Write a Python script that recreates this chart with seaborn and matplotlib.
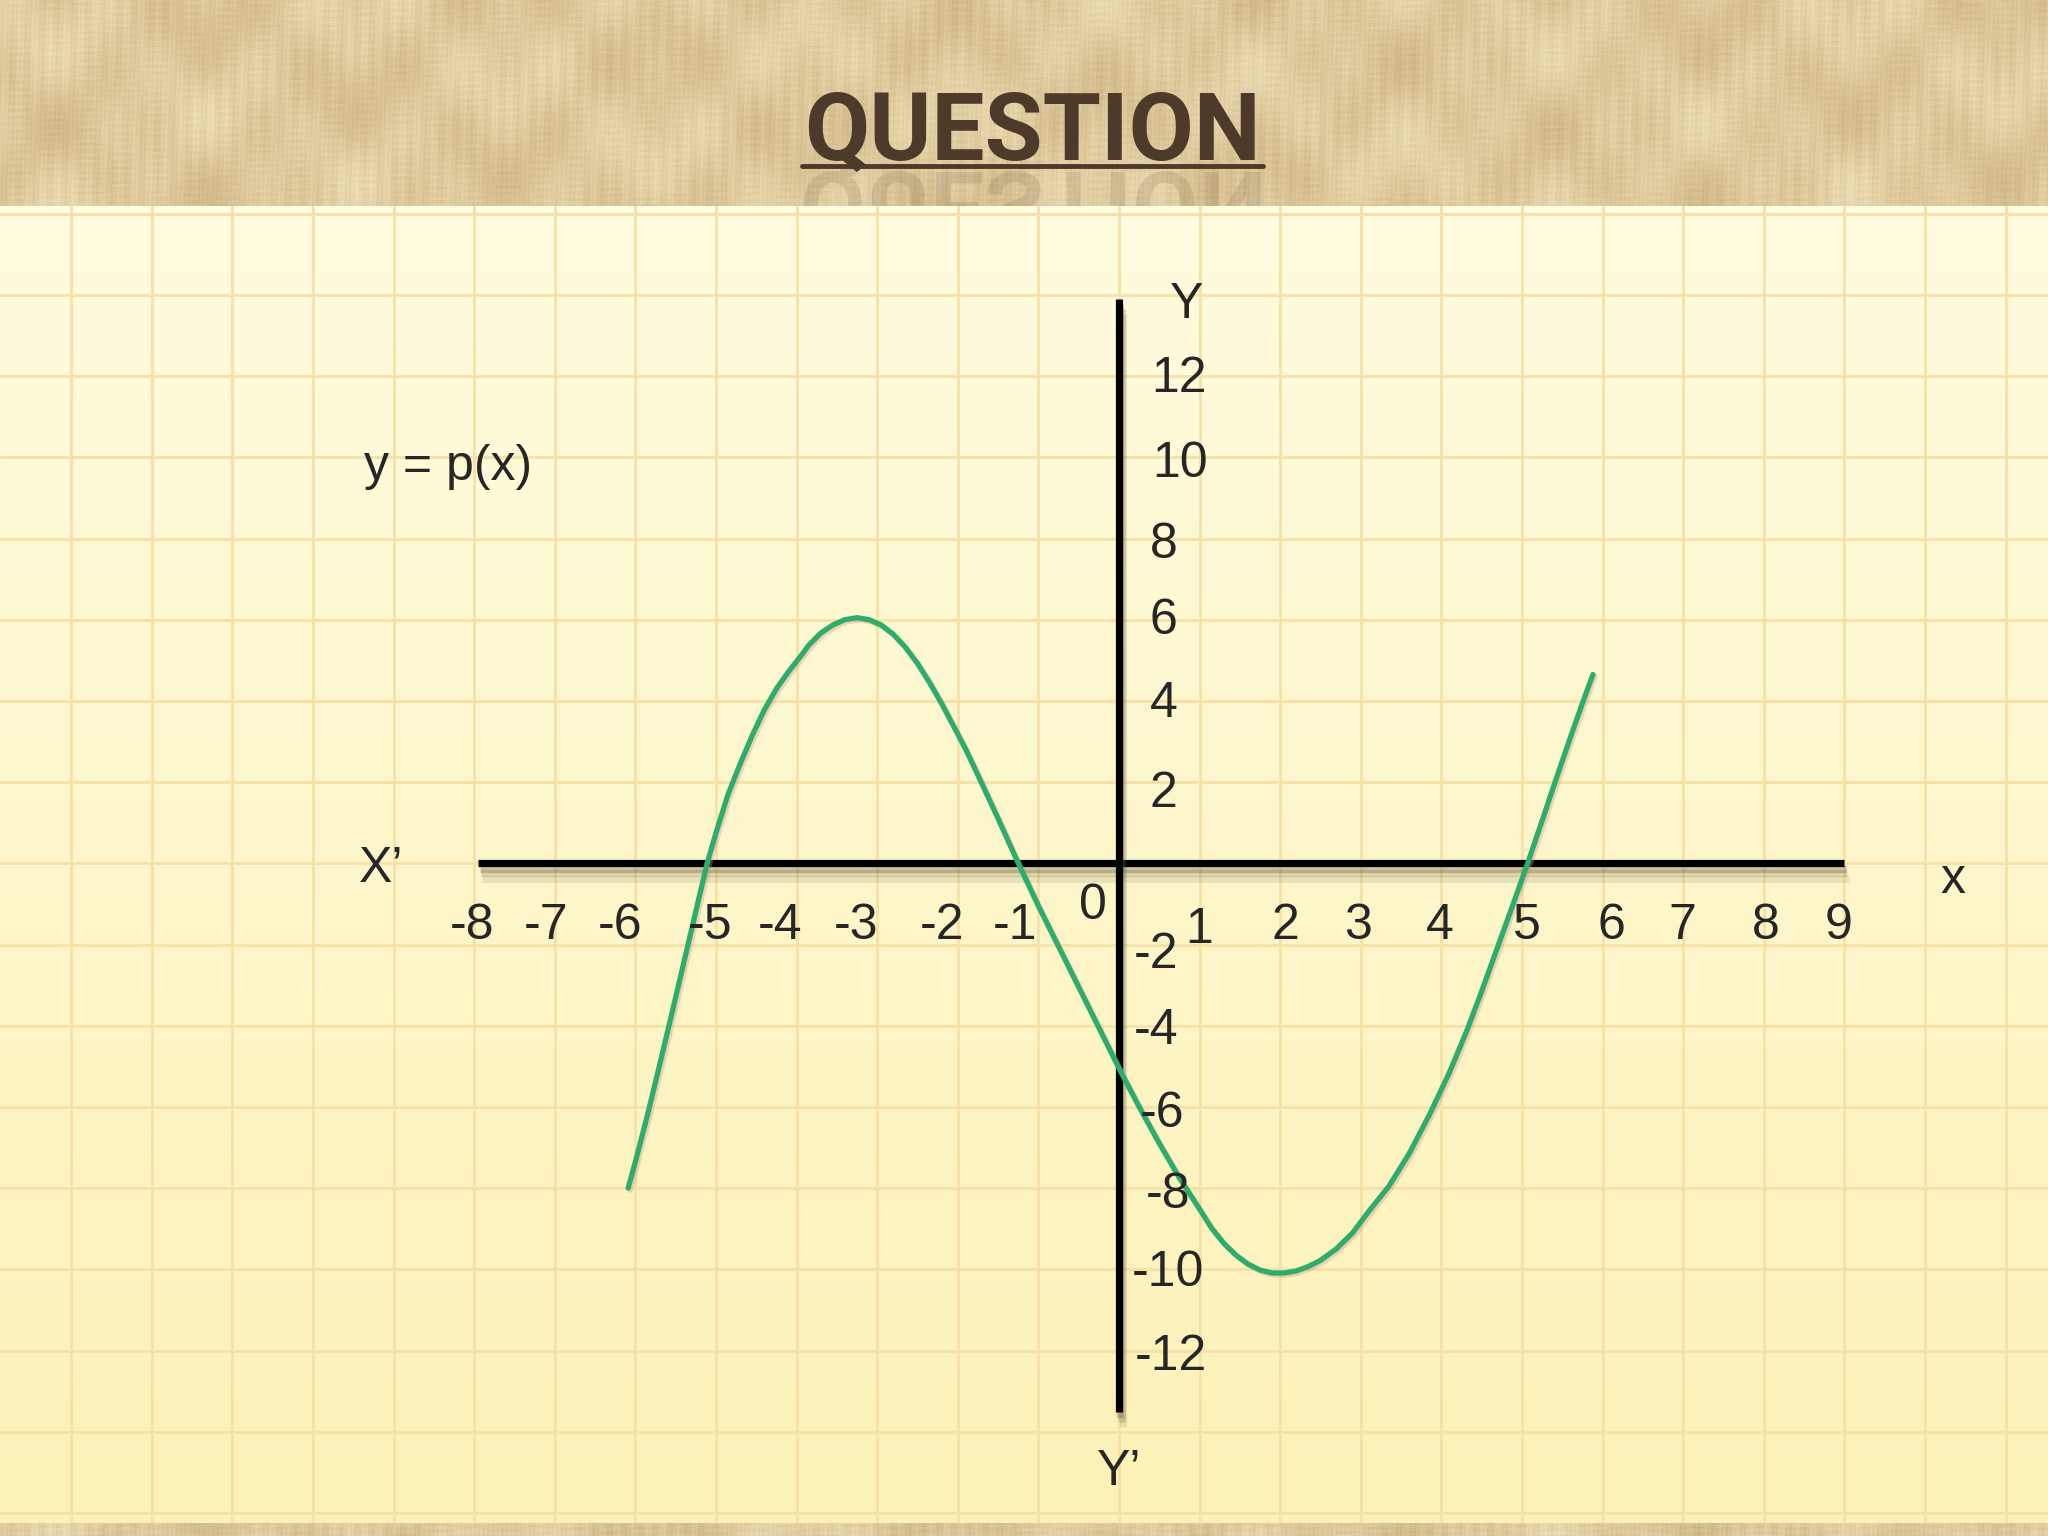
import numpy as np
import matplotlib
matplotlib.use("Agg")
import matplotlib.pyplot as plt
import matplotlib.patheffects as pe
from matplotlib.textpath import TextPath
from matplotlib.font_manager import FontProperties
from matplotlib.patches import PathPatch
from matplotlib.lines import Line2D
from matplotlib.transforms import Affine2D, IdentityTransform
import seaborn as sns

# curve y = p(x)
curve_x = [-6.09, -6.0, -5.85, -5.7, -5.55, -5.4, -5.25, -5.11, -5.0, -4.85, -4.7, -4.55,
           -4.4, -4.25, -4.1, -3.95, -3.85, -3.7, -3.55, -3.4, -3.25, -3.1, -2.95, -2.8,
           -2.65, -2.5, -2.35, -2.2, -2.05, -1.9, -1.75, -1.5, -1.25, -1.0, -0.75, -0.5,
           -0.25, 0.0, 0.25, 0.5, 0.75, 1.0, 1.15, 1.3, 1.45, 1.6, 1.75, 1.9, 2.05, 2.2,
           2.35, 2.5, 2.7, 2.9, 3.1, 3.35, 3.6, 3.85, 4.1, 4.32, 4.5, 4.7, 4.9, 5.07,
           5.25, 5.41, 5.6, 5.76, 5.88]
curve_y = [-8.0, -7.35, -6.2, -4.97, -3.72, -2.45, -1.18, 0.0, 0.75, 1.7, 2.45, 3.15,
           3.78, 4.3, 4.72, 5.1, 5.37, 5.67, 5.87, 6.0, 6.05, 6.0, 5.87, 5.64,
           5.32, 4.92, 4.45, 3.93, 3.37, 2.8, 2.17, 1.1, 0.0, -1.05, -2.05, -3.05,
           -4.05, -5.05, -6.0, -6.9, -7.75, -8.52, -8.99, -9.36, -9.65, -9.87, -10.02, -10.09, -10.09, -10.04,
           -9.93, -9.78, -9.49, -9.1, -8.57, -7.95, -7.15, -6.2, -5.15, -4.1, -3.15, -2.05, -0.95, 0.0,
           1.05, 2.0, 3.1, 4.0, 4.65]

x_ticks = [-8, -7, -6, -5, -4, -3, -2, -1, 1, 2, 3, 4, 5, 6, 7, 8, 9]
y_ticks = [12, 10, 8, 6, 4, 2, -2, -4, -6, -8, -10, -12]

# the labels on the slide are placed by hand, a bit off their values
x_nudge = [-0.03, -0.11, -0.19, -0.07, -0.20, -0.26, -0.20, -0.29, -0.01, 0.07, -0.04,
           -0.02, 0.06, 0.11, -0.01, 0.03, -0.07]
y_label_x = [0.75, 0.76, 0.55, 0.55, 0.55, 0.55, 0.46, 0.46, 0.53, 0.61, 0.61, 0.64]
y_nudge = [-0.08, -0.16, -0.16, -0.03, -0.08, -0.3, -0.27, -0.13, -0.17, -0.17, -0.1, -0.17]

W, H = 2048, 1536
head_px, foot_px = 206, 13
px_per_x, px_per_y = 80.6, 40.6
x0_px, y0_px = 1119, 863.3   # where the origin sits on the slide (from top-left)

sns.set_style("white")
plt.rcParams['font.family'] = ['Liberation Sans', 'DejaVu Sans']

fig = plt.figure(figsize=(W / 100, H / 100), dpi=100)


def texture(rows, phase=0.0):
    c = np.arange(W)[None, :].astype(float)
    r = np.arange(rows)[:, None].astype(float) + phase
    v = (0.30 * np.sin(c * 0.021 + 0.4) * np.sin(r * 0.035 + c * 0.004)
         + 0.22 * np.sin(c * 0.063 + 1.1) * np.cos(r * 0.05)
         + 0.16 * np.sin(c * 0.41) * np.sin(c * 0.011 + r * 0.02)
         + 0.12 * np.sin(r * 0.9 + c * 0.013) * np.sin(c * 0.09)
         + 0.10 * np.sin(c * 1.37 + r * 0.05)
         + 0.08 * np.sin(r * 2.1) * np.sin(c * 0.23 + 0.5)
         + 0.07 * np.sin(c * 2.3) * np.sin(c * 0.031 + 2.0)
         + 0.05 * np.sin(r * 1.3 + 0.2) * np.sin(c * 0.017))
    v = (v - v.min()) / (v.max() - v.min())
    dark = np.array([202, 176, 126]) / 255
    light = np.array([242, 227, 188]) / 255
    return dark + (light - dark) * v[..., None]


ax_head = fig.add_axes([0, 1 - head_px / H, 1, head_px / H])
ax_head.imshow(texture(head_px), aspect='auto', interpolation='bilinear')
ax_head.set_axis_off()

ax_foot = fig.add_axes([0, 0, 1, foot_px / H])
ax_foot.imshow(texture(foot_px, 40.0), aspect='auto')
ax_foot.set_axis_off()

ax = fig.add_axes([0, foot_px / H, 1, (H - head_px - foot_px) / H])
xmin, xmax = -x0_px / px_per_x, (W - x0_px) / px_per_x
ymax, ymin = (y0_px - head_px) / px_per_y, (y0_px - (H - foot_px)) / px_per_y

paper = np.linspace(np.array([255, 252, 224]), np.array([252, 241, 182]), 200)[:, None, :] / 255
ax.imshow(paper, extent=[xmin, xmax, ymin, ymax], aspect='auto', zorder=0)
ax.set_xlim(xmin, xmax)
ax.set_ylim(ymin, ymax)
ax.set_xticks(np.arange(-13, 12))
ax.set_yticks(np.arange(-16, 17, 2))
ax.grid(True, color='#F6E1A6', linewidth=2.0)
ax.set_axisbelow(True)
ax.tick_params(length=0, labelbottom=False, labelleft=False)
sns.despine(ax=ax, left=True, bottom=True)

axis_fx = [pe.SimpleLineShadow(offset=(3, -11), shadow_color='#5f5030', alpha=0.12),
           pe.SimpleLineShadow(offset=(2, -7), shadow_color='#5f5030', alpha=0.2),
           pe.SimpleLineShadow(offset=(1, -4), shadow_color='#5f5030', alpha=0.3),
           pe.Normal()]
ax.plot([-7.95, 9.0], [0, 0], color='black', lw=5.2, solid_capstyle='butt',
        path_effects=axis_fx, zorder=3)
ax.plot([0, 0], [-13.52, 13.9], color='black', lw=5.2, solid_capstyle='butt',
        path_effects=axis_fx, zorder=3)

sns.lineplot(x=curve_x, y=curve_y, sort=False, color='#2DAD6C', lw=3.8, ax=ax, zorder=6,
             solid_joinstyle='round',
             path_effects=[pe.SimpleLineShadow(offset=(1.5, -1.5), shadow_color='#d88a80', alpha=0.35),
                           pe.Normal()])

fs = 36
for v, dx in zip(x_ticks, x_nudge):
    ax.text(v + dx, -1.55 if v != 1 else -1.65, str(v), ha='center', va='center',
            fontsize=fs, zorder=7)
for v, lx, dy in zip(y_ticks, y_label_x, y_nudge):
    ax.text(lx, v + dy, str(v), ha='center', va='center', fontsize=fs, zorder=7)
ax.text(-0.32, -1.04, '0', ha='center', va='center', fontsize=fs, zorder=7)

ax.text(0.84, 13.75, 'Y', ha='center', va='center', fontsize=fs)
ax.text(0.0, -15.0, 'Y\u2019', ha='center', va='center', fontsize=fs)
ax.text(-9.16, -0.14, 'X\u2019', ha='center', va='center', fontsize=fs)
ax.text(10.35, -0.4, 'x', ha='center', va='center', fontsize=fs)
ax.text(-9.37, 9.76, 'y = p(x)', ha='left', va='center', fontsize=36)

# title with underline and faint reflection
title_col = '#4E3A2B'
title_font = ['Roboto', 'DejaVu Sans']
title = fig.text(0.504, (H - 160) / H, 'QUESTION', ha='center', va='baseline', fontsize=68,
                 family=title_font, weight='bold', color=title_col)
fig.canvas.draw()
tb = title.get_window_extent()
fig.add_artist(Line2D([(tb.x0 - 2) / W, (tb.x1 + 2) / W], [(H - 166) / H] * 2,
                      color=title_col, lw=3.5))

fp = FontProperties(family=title_font, weight='bold')
tp = TextPath((0, 0), 'QUESTION', size=100, prop=fp)
bb = tp.get_extents()
s = tb.width / bb.width
refl = PathPatch(tp, transform=Affine2D().translate(-bb.x0, 0).scale(s, -s).translate(tb.x0, H - 172)
                 + IdentityTransform(), facecolor=title_col, edgecolor='none', alpha=0.13)
refl.set_clip_box(ax_head.bbox)
ax_head.add_artist(refl)

fig.savefig('out.png', dpi=100)
